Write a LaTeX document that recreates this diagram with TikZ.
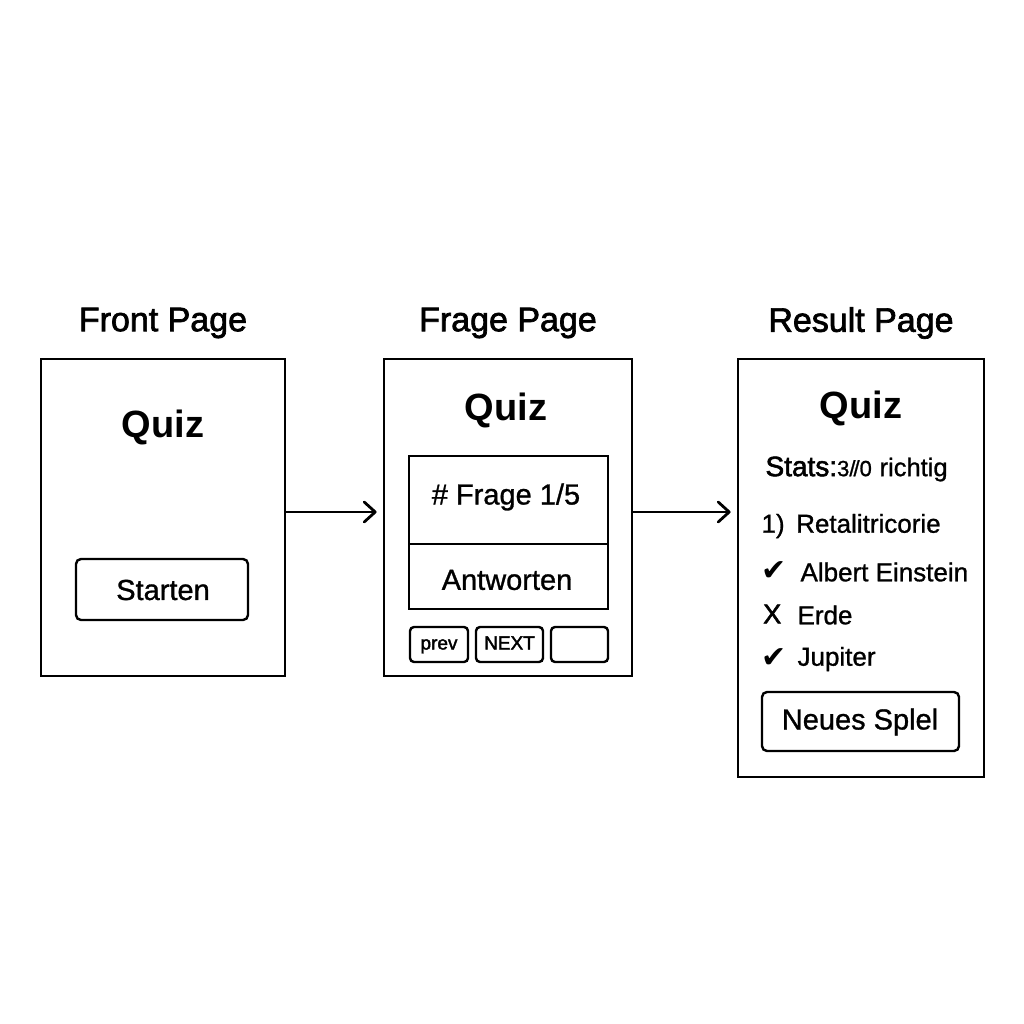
\documentclass[tikz,border=0pt]{standalone}
\usepackage{fontspec}
\setmainfont{Liberation Sans}
\newfontfamily\medfont[FakeBold=2]{Liberation Sans}
\newfontfamily\lightmed[FakeBold=1]{Liberation Sans}
\newfontfamily\symfont{DejaVu Sans}
\usetikzlibrary{arrows.meta,calc}
\begin{document}
\begin{tikzpicture}[x=1pt,y=-1pt,
  page/.style={draw, line width=2.8pt, inner sep=0pt},
  btn/.style={draw, line width=2.4pt, rounded corners=5pt, inner sep=0pt},
  smallbtn/.style={draw, line width=2.4pt, rounded corners=4pt, inner sep=0pt, minimum height=35pt,
    text height=14pt, text depth=4pt, font=\fontsize{19}{22}\selectfont\medfont},
  header/.style={font=\fontsize{34}{40}\selectfont\medfont},
  pagetitle/.style={font=\fontsize{38}{44}\selectfont\bfseries},
  btntext/.style={font=\fontsize{29}{34}\selectfont\lightmed},
  listitem/.style={font=\fontsize{26}{30}\selectfont\lightmed, anchor=west},
  tick/.style={font=\fontsize{30}{34}\selectfont\symfont, anchor=west, inner sep=0pt},
  cross/.style={font=\fontsize{27}{30}\selectfont\medfont, anchor=west, inner sep=0pt},
  flow/.style={line width=2.8pt, -{Straight Barb[length=11pt,width=20pt,line width=2.8pt,round]}}
]
\useasboundingbox[fill=white] (0,0) rectangle (1024,1024);

% --- page frames ---
\node[page, minimum width=244pt, minimum height=317pt] (front)  at (163,517.5) {};
\node[page, minimum width=248pt, minimum height=317pt] (frage)  at (508,517.5) {};
\node[page, minimum width=246pt, minimum height=418pt] (result) at (861,568) {};

% --- headers ---
\node[header] (hfront)  at (163,323) {Front Page};
\node[header] (hfrage)  at (508,323) {Frage Page};
\node[header] (hresult) at (861,323) {Result Page};

% --- front page ---
\node[pagetitle] (q1) at (163,427) {Quiz};
\node[btn, minimum width=172pt, minimum height=61pt] (start) at (162,589.5) {};
\node[btntext] (starttxt) at (163,590) {Starten};

% --- question page ---
\node[pagetitle] (q2) at (506,410) {Quiz};
\node[page, line width=2.4pt, minimum width=199pt, minimum height=88pt] (qbox) at (508.5,500) {};
\node[page, line width=2.4pt, minimum width=199pt, minimum height=65pt] (abox) at (508.5,576.5) {};
\node[btntext] (qtxt) at (506,497) {\# Frage 1/5};
\node[btntext] (atxt) at (507,580) {Antworten};
\node[smallbtn, minimum width=58pt] (prev) at (439,644.5) {prev};
\node[smallbtn, minimum width=67pt] (next) at (509.5,644.5) {NEXT};
\node[smallbtn, minimum width=57pt] (blank) at (579.5,644.5) {};

% --- result page ---
\node[pagetitle] (q3) at (861,408) {Quiz};
\node[anchor=west] (stats) at (762,469)
  {\fontsize{28}{32}\selectfont\medfont Stats:{\lightmed\fontsize{22}{26}\selectfont 3/\kern-2pt/0} {\lightmed\fontsize{25.5}{30}\selectfont richtig}};
\node[listitem] (r1) at (758,526) {1)\ \,Retalitricorie};
\node[tick] (m1) at (761,571) {✔};
\node[listitem] (r2) at (797,572) {Albert Einstein};
\node[cross] (m2) at (763,614) {X};
\node[listitem] (r3) at (794,615) {Erde};
\node[tick] (m3) at (761,658) {✔};
\node[listitem] (r4) at (794,659) {Jupiter};
\node[btn, minimum width=197pt, minimum height=59pt] (again) at (860.5,721.5) {};
\node[btntext] (againtxt) at (860,722) {Neues Splel};

% --- navigation arrows ---
\draw[flow, shorten >=6pt] ([yshift=5.5pt]front.east) -- ([yshift=5.5pt]frage.west);
\draw[flow, shorten >=6pt] ([yshift=5.5pt]frage.east) -- ([yshift=5.5pt]frage.east -| result.west);
\end{tikzpicture}
\end{document}
